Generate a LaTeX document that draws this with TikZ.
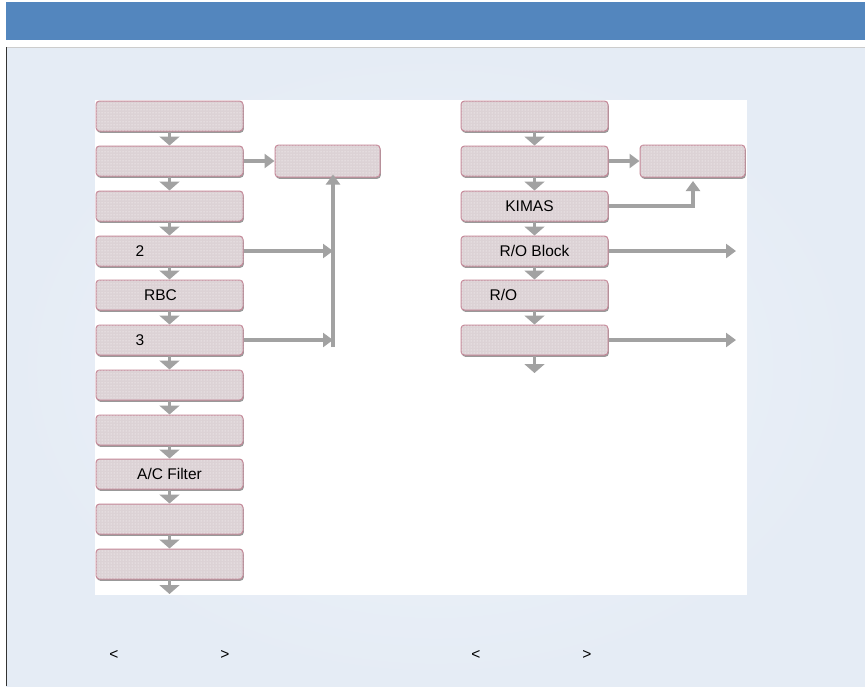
\documentclass[tikz,border=0pt]{standalone}
\usepackage{fontspec}
\setmainfont{Liberation Sans}
\usetikzlibrary{arrows.meta,patterns}
\definecolor{barblue}{HTML}{5386BE}
\definecolor{panelbg}{HTML}{E5ECF5}
\definecolor{panelhi}{HTML}{EFF3F9}
\definecolor{boxfill}{HTML}{DCD2D5}
\definecolor{boxline}{HTML}{C48898}
\definecolor{arrgray}{HTML}{A2A2A2}
\begin{document}
\begin{tikzpicture}[x=1pt,y=-1pt,
    blk/.style={draw=boxline, line width=1pt, fill=boxfill, rounded corners=3.5pt,
      minimum width=147pt, minimum height=30pt, inner sep=0pt,
      preaction={fill=black!40, transform canvas={xshift=0.8pt,yshift=-1.8pt}},
      postaction={pattern=dots, pattern color=white}},
    sidebox/.style={blk, minimum width=105pt, minimum height=32pt},
    txt/.style={font=\fontsize{15.5}{18}\selectfont, inner sep=0pt},
    dn/.style={draw=arrgray, line width=3.5pt, -{Triangle[width=20pt,length=9pt]}},
    gl/.style={draw=arrgray, line width=3.5pt},
    ga/.style={gl, -{Triangle[width=14pt,length=10pt]}}]
  \useasboundingbox (0,0) rectangle (865,686);
  % title bar and panel
  \fill[barblue] (6,2) rectangle (865,40);
  \shade[inner color=panelhi, outer color=panelbg] (6,47) rectangle (865,686);
  \draw[black!20, line width=1pt] (6,47) -- (865,47);
  \draw[black!80, line width=1.2pt] (6.5,47) -- (6.5,686);
  \fill[white] (95,100) rectangle (747,595);

  % left flow
  \node[blk] (L1) at (169.5,116) {};
  \node[blk] (L2) at (169.5,161) {};
  \node[blk] (L3) at (169.5,206) {};
  \node[blk] (L4) at (169.5,251) {};
  \node[blk] (L5) at (169.5,295) {};
  \node[blk] (L6) at (169.5,340) {};
  \node[blk] (L7) at (169.5,385) {};
  \node[blk] (L8) at (169.5,430) {};
  \node[blk] (L9) at (169.5,474) {};
  \node[blk] (L10) at (169.5,519) {};
  \node[blk] (L11) at (169.5,564) {};
  \node[sidebox] (LS) at (327.5,161) {};
  \node[txt] (t2) at ([xshift=-29.5pt]L4.center) {2};
  \node[txt] (tRBC) at ([xshift=-9pt]L5.center) {RBC};
  \node[txt] (t3) at ([xshift=-29.5pt]L6.center) {3};
  \node[txt] (tAC) at (L9.center) {A/C Filter};

  \foreach \a/\b in {L1/L2,L2/L3,L3/L4,L4/L5,L5/L6,L6/L7,L7/L8,L8/L9,L9/L10,L10/L11}
    \draw[dn] (\a.south) -- (\b.north);
  \coordinate (Lend) at (169.5,594);
  \draw[dn] (L11.south) -- (Lend);
  \draw[ga] (L2.east) -- (LS.west);
  \coordinate (Lbus) at (333,347);
  \draw[ga] (Lbus) -- ([yshift=3pt]LS.south -| Lbus);
  \draw[ga] (L4.east) -- (L4.east -| Lbus);
  \draw[ga] (L6.east) -- (L6.east -| Lbus);

  % right flow
  \node[blk] (R1) at (534.5,116) {};
  \node[blk] (R2) at (534.5,161) {};
  \node[blk] (R3) at (534.5,206) {};
  \node[blk] (R4) at (534.5,251) {};
  \node[blk] (R5) at (534.5,295) {};
  \node[blk] (R6) at (534.5,340) {};
  \node[sidebox] (RS) at (692.5,161) {};
  \node[txt] (tKIMAS) at ([xshift=-5pt]R3.center) {KIMAS};
  \node[txt] (tROB) at (R4.center) {R/O Block};
  \node[txt] (tRO) at ([xshift=-31pt]R5.center) {R/O};

  \foreach \a/\b in {R1/R2,R2/R3,R3/R4,R4/R5,R5/R6}
    \draw[dn] (\a.south) -- (\b.north);
  \coordinate (Rend) at (534.5,373);
  \draw[dn] (R6.south) -- (Rend);
  \draw[ga] (R2.east) -- (RS.west);
  \coordinate (Rup) at (693,181);
  \draw[ga] (R3.east) -| (Rup);
  \coordinate (Rout1) at (736,251);
  \coordinate (Rout2) at (736,340);
  \draw[ga] (R4.east) -- (Rout1);
  \draw[ga] (R6.east) -- (Rout2);

  % captions
  \node[txt] (c1) at (114,655) {<};
  \node[txt] (c2) at (225,655) {>};
  \node[txt] (c3) at (476,655) {<};
  \node[txt] (c4) at (587,655) {>};
\end{tikzpicture}
\end{document}
